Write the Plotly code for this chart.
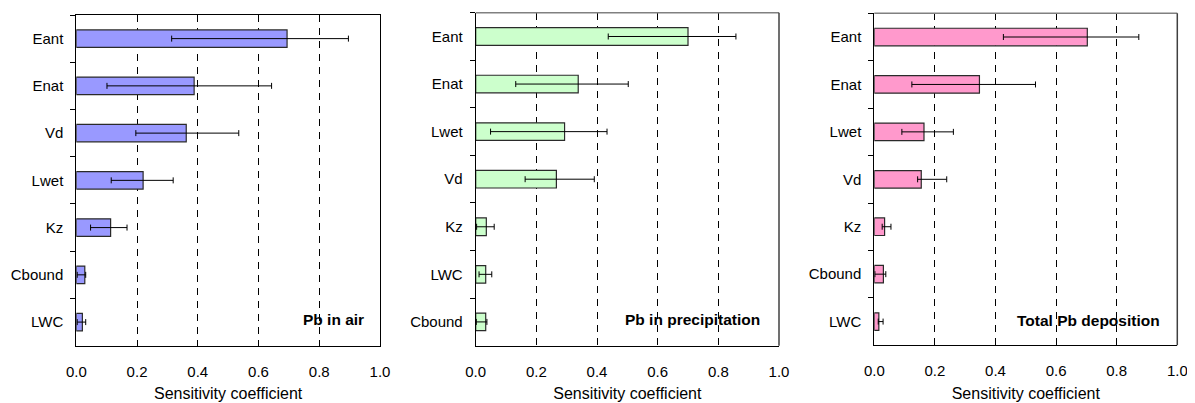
import plotly.graph_objects as go

# ---- data ----
cats_air = ["Eant", "Enat", "Vd", "Lwet", "Kz", "Cbound", "LWC"]
val_air = [0.694, 0.388, 0.362, 0.220, 0.113, 0.028, 0.020]
low_air = [0.314, 0.101, 0.196, 0.115, 0.047, 0.003, 0.003]
high_air = [0.896, 0.643, 0.535, 0.319, 0.167, 0.031, 0.031]

cats_prec = ["Eant", "Enat", "Lwet", "Vd", "Kz", "LWC", "Cbound"]
val_prec = [0.700, 0.338, 0.293, 0.266, 0.035, 0.033, 0.033]
low_prec = [0.437, 0.132, 0.049, 0.163, 0.003, 0.011, 0.002]
high_prec = [0.858, 0.503, 0.433, 0.391, 0.061, 0.053, 0.037]

cats_dep = ["Eant", "Enat", "Lwet", "Vd", "Kz", "Cbound", "LWC"]
val_dep = [0.703, 0.347, 0.164, 0.155, 0.034, 0.030, 0.015]
low_dep = [0.426, 0.124, 0.091, 0.143, 0.026, 0.002, 0.013]
high_dep = [0.873, 0.532, 0.261, 0.239, 0.055, 0.038, 0.029]

panel_titles = ["Pb in air", "Pb in precipitation", "Total Pb deposition"]
x_ticks = [0.0, 0.2, 0.4, 0.6, 0.8, 1.0]
x_title = "Sensitivity coefficient"

FONT = "Liberation Sans, Arial, sans-serif"
# page body has an 8px default margin: the figure is shifted by it
OFF = 8
W, H = 1195 - OFF, 403 - OFF


def px_x(x):
    return (x - OFF) / W


def px_y(y):
    return 1 - (y - OFF) / H


panels = [
    (cats_air, val_air, low_air, high_air, "#9999FF", (76.3, 380.0), (15.0, 345.7), 365.7, 319.0),
    (cats_prec, val_prec, low_prec, high_prec, "#CCFFCC", (475.7, 779.0), (12.7, 345.7), 761.7, 319.0),
    (cats_dep, val_dep, low_dep, high_dep, "#FF99CC", (874.3, 1177.3), (13.3, 345.3), 1161.7, 320.0),
]

fig = go.Figure()
layout_axes = {}
annotations = []
shapes = []

for i, (cats, vals, lows, highs, color, (x0, x1), (yt, yb), ann_x, ann_y) in enumerate(panels):
    n = "" if i == 0 else str(i + 1)
    plus = [h - v for h, v in zip(highs, vals)]
    minus = [v - l for v, l in zip(vals, lows)]
    fig.add_trace(go.Bar(
        x=vals, y=cats, orientation="h",
        xaxis="x" + n, yaxis="y" + n,
        width=0.37,
        marker=dict(color=color, line=dict(color="#2a2a2a", width=1.2)),
        error_x=dict(type="data", symmetric=False, array=plus, arrayminus=minus,
                     color="#000000", thickness=1, width=3),
        showlegend=False,
    ))
    layout_axes["xaxis" + n] = dict(
        domain=[px_x(x0), px_x(x1)], anchor="y" + n,
        range=[0, 1], tickvals=x_ticks, tickformat=".1f",
        showgrid=True, gridcolor="#000000", gridwidth=1, griddash="7px,6px",
        showline=True, linecolor="#000000", linewidth=1,
        mirror=(i == 0), ticks="", ticklabelstandoff=12,
        zeroline=False,
        tickfont=dict(family=FONT, size=15, color="#000000"),
        title=dict(text=x_title, font=dict(family=FONT, size=16, color="#000000"), standoff=9),
        automargin=False, fixedrange=True,
    )
    layout_axes["yaxis" + n] = dict(
        domain=[px_y(yb), px_y(yt)], anchor="x" + n,
        type="category", categoryorder="array", categoryarray=cats,
        autorange="reversed",
        showline=True, linecolor="#000000", linewidth=1,
        mirror=(i == 0),
        ticks="outside", ticklen=5, tickcolor="#000000", tickson="boundaries",
        showgrid=False, zeroline=False,
        tickfont=dict(family=FONT, size=15, color="#000000"),
        ticklabelstandoff=9,
        automargin=False, fixedrange=True,
    )
    if i > 0:
        xa = "x" + n + " domain"
        ya = "y" + n + " domain"
        shapes.append(dict(type="line", xref=xa, yref=ya, x0=0, x1=1, y0=1, y1=1,
                           line=dict(color="#808080", width=1.5)))
        shapes.append(dict(type="line", xref=xa, yref=ya, x0=1, x1=1, y0=0, y1=1,
                           line=dict(color="#404040", width=1.5)))
    annotations.append(dict(
        text="<b>" + panel_titles[i] + "</b>", xref="paper", yref="paper",
        x=px_x(ann_x), y=px_y(ann_y), xanchor="right", yanchor="middle",
        showarrow=False, font=dict(family=FONT, size=15.5, color="#000000"),
    ))

fig.update_layout(
    width=W, height=H,
    margin=dict(l=0, r=0, t=0, b=0),
    paper_bgcolor="#FFFFFF", plot_bgcolor="#FFFFFF",
    annotations=annotations, shapes=shapes,
    font=dict(family=FONT, color="#000000"),
    **layout_axes,
)

fig.write_html("out.html")
